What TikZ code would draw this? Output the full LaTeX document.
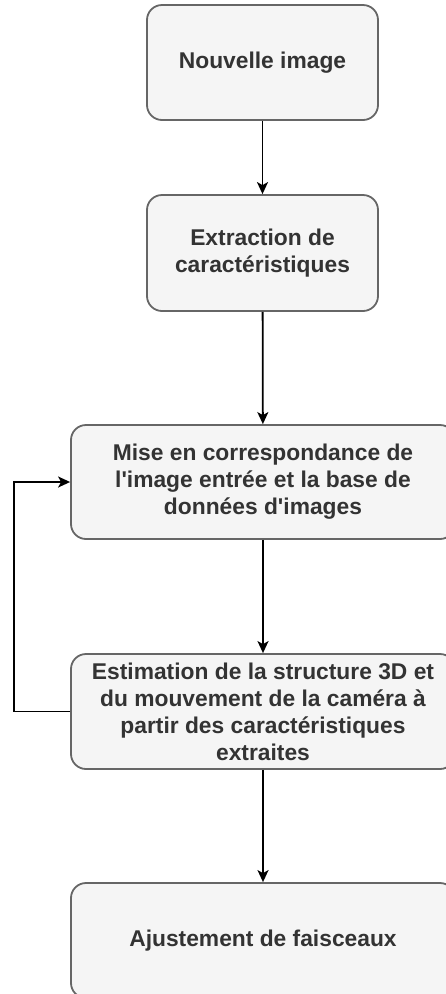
\documentclass[tikz,border=0pt]{standalone}
\usepackage{fontspec}
% plain family: keeps straight apostrophes
\newfontfamily\boxfont{Liberation Sans}
\usetikzlibrary{arrows.meta}
\definecolor{boxfill}{HTML}{F5F5F5}
\definecolor{boxline}{HTML}{666666}
\definecolor{boxtext}{HTML}{333333}
\begin{document}
\begin{tikzpicture}[x=1pt,y=-1pt,
  stepbox/.style={draw=boxline,fill=boxfill,line width=1.8pt,rounded corners=15pt,
    text=boxtext,font=\boxfont\fontsize{22.8}{27}\selectfont\bfseries,align=center,
    inner sep=0pt},
  flow/.style={draw=black,line width=1.8pt,-{Stealth[length=12pt,width=11pt,inset=3pt]}}]
  \useasboundingbox (0,0) rectangle (445,994);
  \node[stepbox,minimum width=231pt,minimum height=115pt] (img) at (262.5,62.5) {Nouvelle image};
  \node[stepbox,minimum width=231pt,minimum height=116pt] (ext) at (262.5,253) {Extraction de\\caractéristiques};
  \node[stepbox,minimum width=384pt,minimum height=114pt] (match) at (263,482) {Mise en correspondance de\\l'image entrée et la base de\\données d'images};
  \node[stepbox,minimum width=384pt,minimum height=115pt] (est) at (263,711.5) {Estimation de la structure 3D et\\du mouvement de la caméra à\\partir des caractéristiques\\extraites};
  \node[stepbox,minimum width=384pt,minimum height=115pt] (adj) at (263,940.5) {Ajustement de faisceaux};
  \draw[flow] (img) -- (ext);
  \draw[flow] (ext) -- (match);
  \draw[flow] (match) -- (est);
  \draw[flow] (est) -- (adj);
  \coordinate (loop) at (14,711.5);
  \draw[flow] (est.west) -- (loop) |- (match.west);
\end{tikzpicture}
\end{document}
